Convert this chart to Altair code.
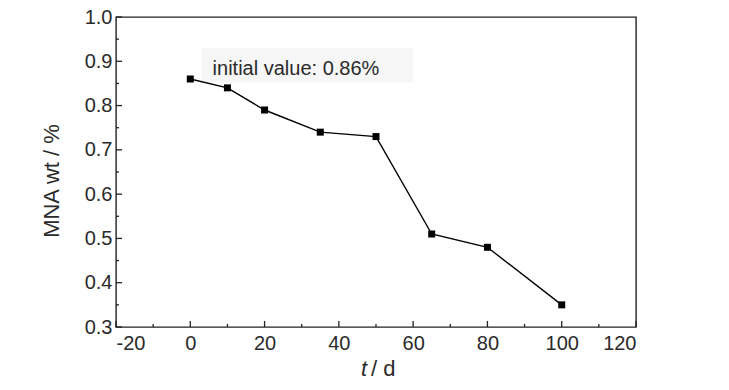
import altair as alt
import pandas as pd

# data
days = [0, 10, 20, 35, 50, 65, 80, 100]
mna = [0.86, 0.84, 0.79, 0.74, 0.73, 0.51, 0.48, 0.35]

x_major = [-20, 0, 20, 40, 60, 80, 100, 120]
x_minor = [-10, 10, 30, 50, 70, 90, 110]
y_major = [0.3, 0.4, 0.5, 0.6, 0.7, 0.8, 0.9, 1.0]
y_minor = [0.35, 0.45, 0.55, 0.65, 0.75, 0.85, 0.95]

note_text = ["initial value: 0.86%"]
note_x = [6]
note_y = [0.87]
box_x = [3]
box_x2 = [60]
box_y = [0.93]
box_y2 = [0.852]

W, H = 520, 310
FONT = "Liberation Sans, Arial, sans-serif"
TXT = "#2a2a2a"
LAB = 20

xs = alt.Scale(domain=[-20, 120], nice=False, zero=False)
ys = alt.Scale(domain=[0.3, 1.0], nice=False, zero=False)

df = pd.DataFrame({"t": days, "mna": mna})

base = alt.Chart(df)

line = base.mark_line(color="black", strokeWidth=1.4).encode(
    x=alt.X("t:Q", scale=xs,
            axis=alt.Axis(values=x_major, ticks=False, domain=False, grid=False,
                          labelPadding=6, labelFontSize=LAB, labelFont=FONT,
                          labelColor=TXT, title=None,
                          labelExpr="'' + datum.value")),
    y=alt.Y("mna:Q", scale=ys,
            axis=alt.Axis(values=y_major, ticks=False, domain=False, grid=False,
                          labelPadding=4, labelFontSize=LAB, labelFont=FONT,
                          labelColor=TXT, title=None, format=".1f")),
)
pts = base.mark_square(color="black", size=49, opacity=1).encode(
    x=alt.X("t:Q", scale=xs), y=alt.Y("mna:Q", scale=ys))

box_df = pd.DataFrame({"x": box_x, "x2": box_x2, "y": box_y, "y2": box_y2})
box = alt.Chart(box_df).mark_rect(color="#f6f6f6").encode(
    x=alt.X("x:Q", scale=xs), x2="x2:Q", y=alt.Y("y:Q", scale=ys), y2="y2:Q")

note_df = pd.DataFrame({"x": note_x, "y": note_y, "label": note_text})
note = alt.Chart(note_df).mark_text(align="left", baseline="alphabetic",
                                    fontSize=LAB, font=FONT, color=TXT).encode(
    x=alt.X("x:Q", scale=xs), y=alt.Y("y:Q", scale=ys), text="label:N")

# inner ticks
xmaj_df = pd.DataFrame({"v": x_major})
xmin_df = pd.DataFrame({"v": x_minor})
ymaj_df = pd.DataFrame({"v": y_major})
ymin_df = pd.DataFrame({"v": y_minor})
tick_col = "#222222"
xmaj = alt.Chart(xmaj_df).mark_rule(color=tick_col, strokeWidth=1.3).encode(
    x=alt.X("v:Q", scale=xs), y=alt.value(H), y2=alt.value(H - 6))
xmin = alt.Chart(xmin_df).mark_rule(color=tick_col, strokeWidth=1.3).encode(
    x=alt.X("v:Q", scale=xs), y=alt.value(H), y2=alt.value(H - 3))
ymaj = alt.Chart(ymaj_df).mark_rule(color=tick_col, strokeWidth=1.3).encode(
    y=alt.Y("v:Q", scale=ys), x=alt.value(0), x2=alt.value(6))
ymin = alt.Chart(ymin_df).mark_rule(color=tick_col, strokeWidth=1.3).encode(
    y=alt.Y("v:Q", scale=ys), x=alt.value(0), x2=alt.value(3))

# axis titles
t_df = pd.DataFrame({"a": ["t"], "b": ["/ d"], "c": ["MNA wt / %"]})
xt1 = alt.Chart(t_df).mark_text(align="right", baseline="alphabetic", fontSize=22,
                                font=FONT, fontStyle="italic", color=TXT).encode(
    text="a:N", x=alt.value(251), y=alt.value(H + 49))
xt2 = alt.Chart(t_df).mark_text(align="left", baseline="alphabetic", fontSize=22,
                                font=FONT, color=TXT).encode(
    text="b:N", x=alt.value(255), y=alt.value(H + 49))
yt = alt.Chart(t_df).mark_text(align="center", baseline="middle", fontSize=22,
                               font=FONT, angle=270, color=TXT).encode(
    text="c:N", x=alt.value(-64), y=alt.value(164))

chart = alt.layer(box, note, xmaj, xmin, ymaj, ymin, line, pts, xt1, xt2, yt).properties(
    width=W, height=H,
    background="white",
    autosize=alt.AutoSizeParams(type="none"),
    padding={"left": 108, "top": 9, "right": 85, "bottom": 60},
).configure_view(stroke="#222222", strokeWidth=1.4)

chart.save("out.html", embed_options={"renderer": "svg", "actions": False})
